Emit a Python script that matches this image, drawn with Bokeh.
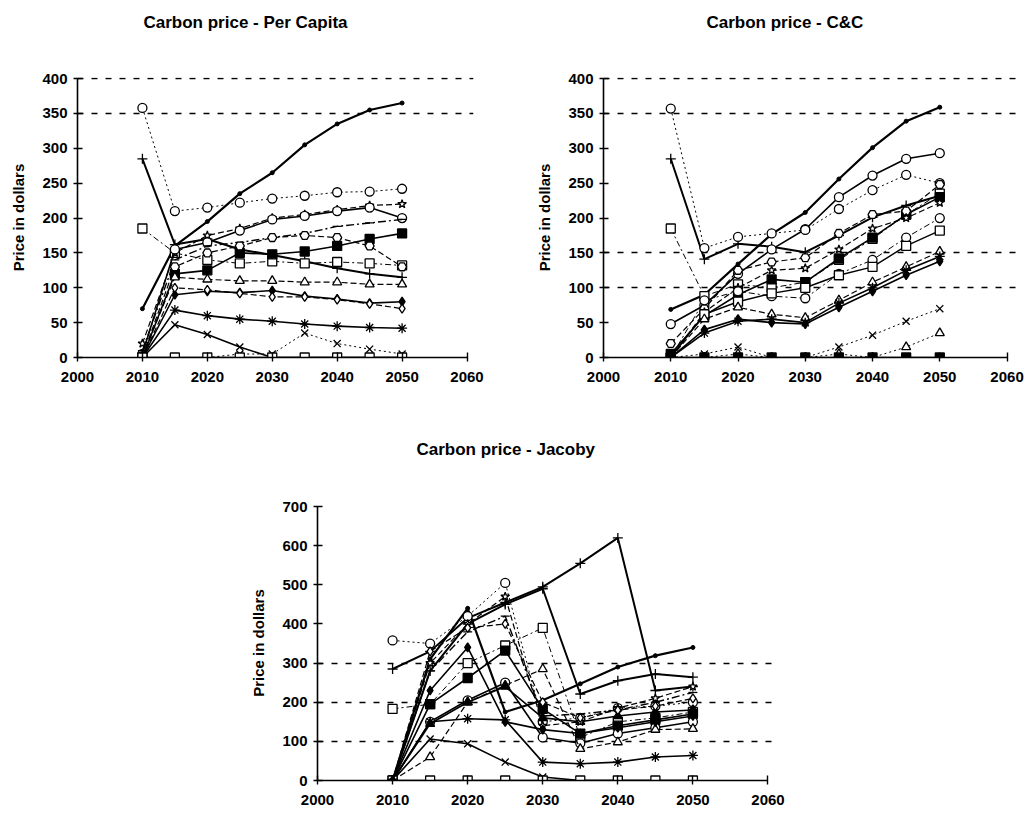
from bokeh.plotting import figure
from bokeh.models import Range1d, FixedTicker, Spacer, Title
from bokeh.layouts import column, row
from bokeh.embed import file_html
from bokeh.resources import INLINE

# ---------------- data ----------------
years = [2010, 2015, 2020, 2025, 2030, 2035, 2040, 2045, 2050]
x_ticks = [2000, 2010, 2020, 2030, 2040, 2050, 2060]

titles = ["Carbon price - Per Capita", "Carbon price - C&C", "Carbon price - Jacoby"]
y_label = "Price in dollars"

# Per Capita
pc_a = [70, 160, 195, 235, 265, 305, 335, 355, 365]
pc_b = [358, 210, 215, 222, 228, 232, 237, 238, 242]
pc_c = [285, 162, 170, 155, 147, 138, 128, 120, 115]
pc_d = [185, 150, 140, 135, 138, 135, 137, 135, 132]
pc_e = [20, 150, 175, 185, 200, 205, 212, 218, 220]
pc_f = [5, 155, 165, 182, 198, 203, 210, 215, 200]
pc_g = [0, 120, 125, 150, 148, 152, 160, 170, 178]
pc_h = [10, 140, 160, 165, 172, 178, 188, 193, 198]
pc_i = [2, 130, 150, 160, 172, 175, 172, 160, 130]
pc_j = [2, 115, 112, 110, 110, 108, 108, 105, 105]
pc_k = [0, 90, 95, 93, 96, 88, 84, 78, 80]
pc_l = [0, 100, 97, 92, 87, 87, 83, 77, 70]
pc_m = [0, 68, 60, 55, 52, 48, 45, 43, 42]
pc_n = [0, 47, 33, 15, 0, 0, 0, 0, 0]
pc_o = [0, 0, 0, 5, 5, 35, 20, 12, 5]
pc_p = [0, 0, 0, 0, 0, 0, 0, 0, 0]

# C&C
cc_a = [69, 90, 134, 177, 208, 256, 301, 339, 359]
cc_b = [285, 141, 163, 159, 151, 175, 201, 218, 232]
cc_c = [48, 75, 120, 155, 184, 230, 261, 285, 293]
cc_d = [357, 157, 173, 178, 183, 213, 240, 262, 250]
cc_e = [185, 88, 105, 100, 108, 140, 170, 205, 235]
cc_f = [5, 60, 90, 112, 108, 142, 172, 205, 230]
cc_g = [20, 70, 125, 137, 143, 178, 205, 210, 248]
cc_h = [0, 65, 100, 125, 128, 155, 185, 200, 222]
cc_i = [0, 82, 95, 88, 85, 120, 140, 172, 200]
cc_j = [0, 62, 80, 92, 100, 118, 130, 160, 182]
cc_k = [0, 55, 72, 62, 57, 82, 108, 130, 152]
cc_l = [0, 40, 55, 50, 48, 72, 95, 118, 138]
cc_m = [0, 35, 52, 55, 50, 78, 100, 125, 145]
cc_n = [0, 5, 15, 0, 0, 15, 32, 52, 70]
cc_o = [0, 0, 5, 0, 0, 5, 0, 15, 35]
cc_p = [0, 0, 0, 0, 0, 0, 0, 0, 0]

# Jacoby
jc_a = [285, 330, 415, 455, 495, 555, 620, 230, 240]
jc_b = [0, 310, 440, 175, 205, 247, 290, 319, 340]
jc_c = [0, 280, 400, 450, 490, 221, 255, 272, 264]
jc_d = [358, 350, 420, 505, 150, 160, 185, 190, 200]
jc_e = [183, 195, 300, 345, 390, 110, 150, 160, 175]
jc_f = [0, 195, 262, 332, 183, 120, 140, 155, 170]
jc_g = [0, 150, 205, 250, 110, 95, 120, 135, 150]
jc_h = [0, 60, 200, 243, 285, 81, 98, 130, 132]
jc_i = [0, 145, 200, 240, 160, 150, 165, 175, 180]
jc_j = [0, 150, 158, 155, 47, 43, 47, 60, 64]
jc_k = [0, 106, 94, 47, 9, 0, 0, 0, 0]
jc_l = [0, 0, 0, 0, 0, 0, 0, 0, 0]
jc_m = [0, 300, 400, 470, 140, 150, 185, 210, 240]
jc_n = [0, 280, 380, 420, 165, 170, 180, 200, 225]
jc_o = [0, 330, 390, 400, 200, 160, 180, 190, 210]
jc_p = [0, 230, 340, 150, 130, 120, 135, 150, 165]

# ---------------- styles ----------------
# (marker, filled, line_dash, line_width)
DOT = ("dot", True, "solid", 2.2)
OCIRC_DOT = ("circle", False, "2 3", 1.0)
PLUS = ("cross", False, "solid", 2.0)
OSQ_DD = ("square", False, "6 3 2 3", 1.0)
STAR_D = ("star", False, "6 3", 1.2)
OCIRC = ("circle", False, "solid", 1.6)
FSQ = ("square", True, "solid", 1.6)
DASH_DD = ("dash", True, "8 3 2 3", 1.4)
HEX_D = ("hex", False, "6 3", 1.2)
OTRI_D = ("triangle", False, "6 3", 1.2)
FDIA = ("diamond", True, "solid", 1.6)
ODIA_D = ("diamond", False, "6 3", 1.2)
AST = ("asterisk", False, "solid", 1.6)
XS = ("x", False, "solid", 1.6)
X_DOT = ("x", False, "2 3", 1.0)
OSQ = ("square", False, "solid", 1.4)
OCIRC_DD = ("circle", False, "6 3 2 3", 1.0)
OTRI_DOT = ("triangle", False, "2 3", 1.0)
FTRI = ("triangle", True, "solid", 1.6)

FONT = "Liberation Sans"


def make_panel(title, series, ymax, ystep, grid_vals, width, height,
               mb_left, mb_right, mb_top, mb_bottom, xmax, title_dx, gap):
    p = figure(width=width, height=height, output_backend="svg", toolbar_location=None,
               x_range=Range1d(2000, xmax), y_range=Range1d(0, ymax * 1.004),
               min_border_left=mb_left, min_border_right=mb_right,
               min_border_top=mb_top, min_border_bottom=mb_bottom)
    p.outline_line_color = None
    p.background_fill_color = "white"
    p.border_fill_color = "white"

    # empty band between the title and the plot frame
    p.add_layout(Title(text=" ", text_font_size="17px", standoff=gap), "above")

    p.title.text = title
    p.title.align = "left"
    p.title.offset = title_dx
    p.title.text_font = FONT
    p.title.text_font_size = "17px"
    p.title.text_font_style = "bold"
    p.title.text_color = "black"

    p.xgrid.visible = False
    p.ygrid.ticker = FixedTicker(ticks=grid_vals)
    p.ygrid.grid_line_color = "black"
    p.ygrid.grid_line_dash = "6 8"
    p.ygrid.grid_line_width = 1.6

    p.xaxis.ticker = FixedTicker(ticks=x_ticks)
    p.yaxis.ticker = FixedTicker(ticks=list(range(0, ymax + 1, ystep)))
    p.xaxis.bounds = (2000, 2060)
    p.yaxis.bounds = (0, ymax)
    for ax in (p.xaxis[0], p.yaxis[0]):
        ax.axis_line_color = "black"
        ax.axis_line_width = 1.6
        ax.major_tick_line_color = "black"
        ax.major_tick_line_width = 1.4
        ax.major_tick_out = 4
        ax.major_tick_in = 5
        ax.minor_tick_line_color = None
        ax.major_label_text_font = FONT
        ax.major_label_text_font_size = "15px"
        ax.major_label_text_font_style = "bold"
        ax.major_label_text_color = "black"
    p.xaxis.major_label_standoff = 10
    p.yaxis.major_label_standoff = 6
    p.yaxis.axis_label = y_label
    p.yaxis.axis_label_text_font = FONT
    p.yaxis.axis_label_text_font_size = "15px"
    p.yaxis.axis_label_text_font_style = "bold"
    p.yaxis.axis_label_text_color = "black"
    p.yaxis.axis_label_standoff = 12

    for vals, (marker, filled, dash, lw) in series:
        p.line(years, vals, line_color="black", line_width=lw, line_dash=dash)
        if marker == "dot":
            p.scatter(years, vals, marker="circle", size=4, line_color="black",
                      fill_color="black")
        else:
            size = 9 if marker not in ("cross", "x", "asterisk") else 10
            p.scatter(years, vals, marker=marker, size=size, line_color="black",
                      line_width=1.3, fill_color="black" if filled else "white")
    return p


s1 = [(pc_a, DOT), (pc_b, OCIRC_DOT), (pc_c, PLUS), (pc_d, OSQ_DD), (pc_e, STAR_D),
      (pc_f, OCIRC), (pc_g, FSQ), (pc_h, DASH_DD), (pc_i, HEX_D), (pc_j, OTRI_D),
      (pc_k, FDIA), (pc_l, ODIA_D), (pc_m, AST), (pc_n, XS), (pc_o, X_DOT), (pc_p, OSQ)]
s2 = [(cc_a, DOT), (cc_b, PLUS), (cc_c, OCIRC), (cc_d, OCIRC_DOT), (cc_e, OSQ_DD),
      (cc_f, FSQ), (cc_g, HEX_D), (cc_h, STAR_D), (cc_i, OCIRC_DD), (cc_j, OSQ),
      (cc_k, OTRI_D), (cc_l, FDIA), (cc_m, AST), (cc_n, X_DOT), (cc_o, OTRI_DOT), (cc_p, FSQ)]
s3 = [(jc_a, PLUS), (jc_b, DOT), (jc_c, PLUS), (jc_d, OCIRC_DOT), (jc_e, OSQ_DD),
      (jc_f, FSQ), (jc_g, OCIRC), (jc_h, OTRI_D), (jc_i, FTRI), (jc_j, AST),
      (jc_k, XS), (jc_l, OSQ), (jc_m, STAR_D), (jc_n, DASH_DD), (jc_o, ODIA_D), (jc_p, FDIA)]

p1 = make_panel(titles[0], s1, 400, 50, [350, 400], 490, 400, 77, 17, 76, 42, 2061, 66, 20)
p2 = make_panel(titles[1], s2, 400, 50, [100, 150, 350, 400], 535, 400, 113, 5, 77, 43, 2062, 103, 20)
p3 = make_panel(titles[2], s3, 700, 100, [100, 200, 300], 585, 410, 117, 10, 105, 30, 2061, 99, 21)

layout = column(row(p1, p2), row(Spacer(width=200, height=410), p3))

open("out.html", "w").write(file_html(layout, INLINE))
